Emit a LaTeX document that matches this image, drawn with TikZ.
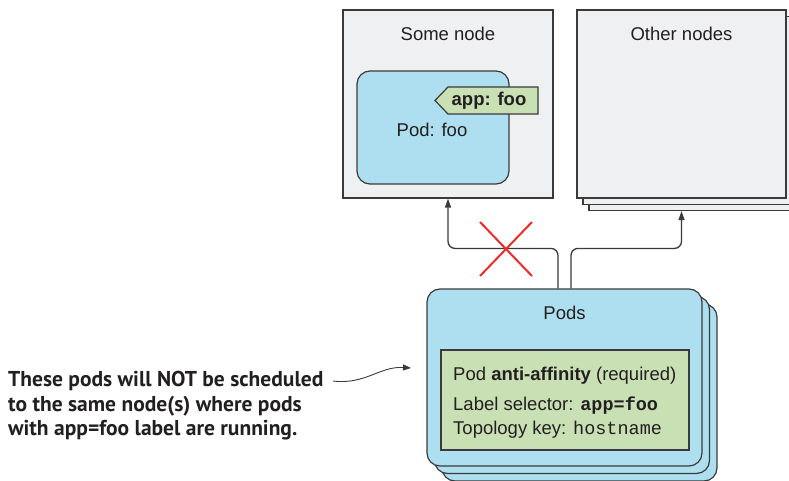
\documentclass[tikz,border=0pt]{standalone}
\usepackage{xcolor}
\usepackage{fontspec}
\setmainfont{Liberation Sans}
\setmonofont{Liberation Mono}
\newfontfamily\notefont{PT Sans}
\usetikzlibrary{arrows.meta,calc}

\definecolor{nodegray}{HTML}{EFF0F2}
\definecolor{podblue}{HTML}{AEDFF0}
\definecolor{taggreen}{HTML}{C9E0B4}
\definecolor{linegray}{HTML}{3A3A3A}
\definecolor{textgray}{HTML}{231F20}
\definecolor{crossred}{HTML}{EE2A2A}

\tikzset{
  txt/.style={font=\fontsize{18.5}{22}\selectfont, text=textgray, inner sep=0},
  nodebox/.style={draw=linegray, fill=nodegray, line width=1.2pt, inner sep=0},
  podbox/.style={draw=linegray, fill=podblue, line width=1.2pt, rounded corners=13pt, inner sep=0},
  rulebox/.style={draw=linegray, fill=taggreen, line width=1.2pt, inner sep=0},
  conn/.style={draw=linegray, line width=1.3pt, rounded corners=7pt, -{Triangle[length=9pt,width=6pt]}},
  note/.style={font=\notefont\bfseries\fontsize{21.5}{24.5}\selectfont, text=textgray, align=left, inner sep=0},
}

\begin{document}
\begin{tikzpicture}[x=1pt,y=-1pt]
        \useasboundingbox (0,0) rectangle (789,481);
        \clip (0,0) rectangle (789,481);

        % worker nodes
        \node[nodebox, minimum width=210, minimum height=188] (some) at (448,104) {};
        \node[txt] (somelbl) at (448,34) {Some node};
        \node[nodebox, minimum width=209, minimum height=188] (other3) at (693.5,116.5) {};
        \node[nodebox, minimum width=209, minimum height=188] (other2) at (687.5,110.5) {};
        \node[nodebox, minimum width=209, minimum height=188] (other) at (681.5,104) {};
        \node[txt] (otherlbl) at (681.5,34) {Other nodes};

        % pod already running there
        \node[podbox, minimum width=152, minimum height=113] (podfoo) at (433,127.5) {};
        \node[txt] (podfoolbl) at (432,130) {Pod: foo};
        \draw[rulebox] (435,100.5) -- (448,87) -- (538,87) -- (538,114) -- (448,114) -- cycle;
        \node[txt, font=\bfseries\fontsize{18.5}{22}\selectfont] (tag) at (489,100.5) {app: foo};

        % new pods
        \node[podbox, minimum width=275, minimum height=177] (pods3) at (579.5,392.5) {};
        \node[podbox, minimum width=275, minimum height=177] (pods2) at (572,385) {};
        \node[podbox, minimum width=275, minimum height=177] (pods) at (564.5,377.5) {};
        \node[txt] (podslbl) at (564.5,313) {Pods};
        \node[rulebox, minimum width=248, minimum height=100] (rule) at (565,400) {};
        \node[txt, anchor=base west] (rule1) at (453,380) {Pod \textbf{anti-affinity} (required)};
        \node[txt, anchor=base west] (rule2) at (453,410) {Label selector: \texttt{\bfseries app=foo}};
        \node[txt, anchor=base west] (rule3) at (453,434) {Topology key: \texttt{hostname}};

        % connectors
        \draw[conn] ([xshift=-6.5pt]pods.north) -- ++(0,-40) -| (some.south);
        \draw[conn] ([xshift=6.5pt]pods.north) -- ++(0,-40) -| (other.south |- other3.south);

        % not allowed
        \coordinate (cross) at (506,249);
        \draw[crossred, line width=2pt] ($(cross)+(-26,-27)$) -- ($(cross)+(26,27)$)
                ($(cross)+(-26,27)$) -- ($(cross)+(26,-27)$);

        % annotation
        \node[note, anchor=west] (note) at (8,406) {These pods will NOT be scheduled\\to the same node(s) where pods\\with app=foo label are running.};
        \coordinate (notestart) at (333,381);
        \coordinate (noteend) at (411,368);
        \draw[linegray, line width=0.9pt, -{Triangle[length=8pt,width=6pt]}] (notestart) .. controls (365,385) and (380,366) .. (noteend);

\end{tikzpicture}
\end{document}
